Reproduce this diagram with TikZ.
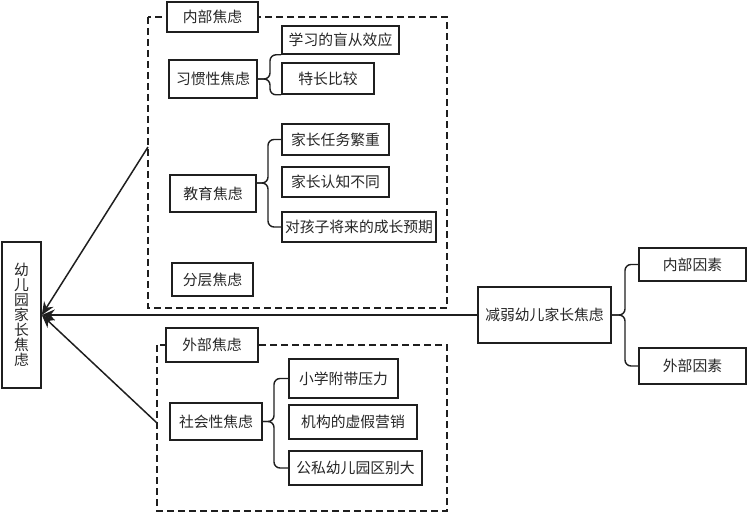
\documentclass[tikz,border=0pt]{standalone}
\usepackage{fontspec}
\setmainfont{Noto Sans CJK SC}
\usetikzlibrary{arrows.meta,calc}
\begin{document}
\begin{tikzpicture}[x=1pt,y=-1pt,
  box/.style={draw=black!88, line width=1.6pt, fill=white, inner sep=0pt, text=black!85,
    font=\fontsize{14.8}{15}\selectfont},
  dashbox/.style={draw=black!88, line width=1.6pt, dash pattern=on 7pt off 4pt},
  conn/.style={draw=black!88, line width=1.4pt, rounded corners=6pt},
  arr/.style={draw=black!88, line width=1.5pt, -{Stealth[length=13pt,width=11pt]}}]
\useasboundingbox (0,0) rectangle (748,513);
% dashed groups
\draw[dashbox] (148,17) rectangle (447,308);
\draw[dashbox] (157,345) rectangle (447,511);
% inner group
\node[box, minimum width=91pt, minimum height=30pt] (nb) at (212.5,17) {内部焦虑};
\node[box, minimum width=88pt, minimum height=38pt] (xg) at (213,79) {习惯性焦虑};
\node[box, minimum width=117pt, minimum height=28pt] (xx) at (340.5,40) {学习的盲从效应};
\node[box, minimum width=92pt, minimum height=31pt] (tc) at (328,78.5) {特长比较};
\node[box, minimum width=86pt, minimum height=37pt] (jy) at (213,193.5) {教育焦虑};
\node[box, minimum width=107pt, minimum height=31pt] (rw) at (335.5,139.5) {家长任务繁重};
\node[box, minimum width=107pt, minimum height=30pt] (rz) at (335.5,182) {家长认知不同};
\node[box, minimum width=154pt, minimum height=30pt] (yq) at (359,227) {对孩子将来的成长预期};
\node[box, minimum width=81pt, minimum height=33pt] (fc) at (212.5,279.5) {分层焦虑};
% outer group
\node[box, minimum width=92pt, minimum height=34pt] (wb) at (212,345) {外部焦虑};
\node[box, minimum width=92pt, minimum height=37pt] (sh) at (216,421.5) {社会性焦虑};
\node[box, minimum width=109pt, minimum height=39pt] (xy) at (343.5,378.5) {小学附带压力};
\node[box, minimum width=128pt, minimum height=34pt] (jg) at (353,422) {机构的虚假营销};
\node[box, minimum width=133pt, minimum height=34pt] (gs) at (355.5,468) {公私幼儿园区别大};
% main nodes
\node[box, minimum width=39pt, minimum height=146pt, align=center] (yey) at (21.5,315) {幼\\儿\\园\\家\\长\\焦\\虑};
\node[box, minimum width=133pt, minimum height=56pt] (jr) at (544.5,315) {减弱幼儿家长焦虑};
\node[box, minimum width=107pt, minimum height=33pt] (nf) at (692.5,264.5) {内部因素};
\node[box, minimum width=107pt, minimum height=36pt] (wf) at (692.5,366) {外部因素};
% braces
\coordinate (b1) at (270,79);
\draw[conn] (xx.south west) -| (b1) -- (b1 -| xg.east);
\draw[conn] (tc.south west) -| (b1) -- (b1 -| xg.east);
\coordinate (b2) at (268,183);
\draw[conn] (rw.west) -| (b2) -- (b2 -| jy.east);
\draw[conn] (yq.west) -| (b2) -- (b2 -| jy.east);
\coordinate (b3) at (274,421.5);
\draw[conn] (xy.west) -| (b3) -- (b3 -| sh.east);
\draw[conn] (gs.west) -| (b3) -- (b3 -| sh.east);
\coordinate (b4) at (625,315);
\draw[conn] (nf.west) -| (b4) -- (b4 -| jr.east);
\draw[conn] (wf.west) -| (b4) -- (b4 -| jr.east);
% arrows
\coordinate (a1) at (148,147);
\coordinate (a2) at (157,423);
\draw[arr] (a1) -- (yey.east);
\draw[arr] (jr.west) -- (yey.east);
\draw[arr] (a2) -- (yey.east);
\end{tikzpicture}
\end{document}
